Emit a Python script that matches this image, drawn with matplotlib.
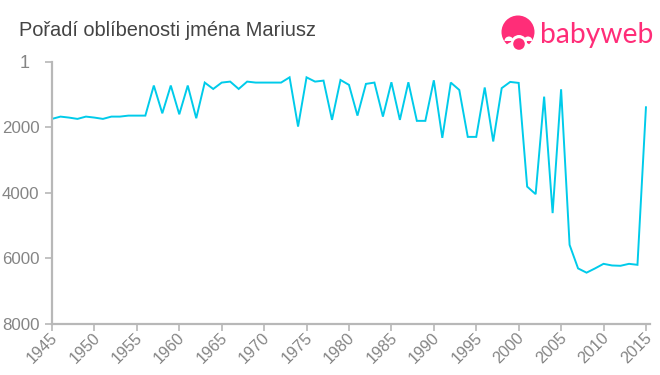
import matplotlib as mpl
import matplotlib.pyplot as plt
from matplotlib.patches import Circle, Ellipse, Wedge
from matplotlib.transforms import ScaledTranslation
import numpy as np

plt.rcParams['font.family'] = ['Liberation Sans', 'DejaVu Sans']

title = 'Pořadí oblíbenosti jména Mariusz'
years = np.arange(1945, 2016)
ranks = [1740, 1670, 1700, 1740, 1670, 1700, 1740, 1670, 1670, 1640,
         1640, 1640, 720, 1570, 720, 1600, 720, 1720, 630, 825,
         630, 600, 825, 600, 630, 630, 630, 630, 470, 1975,
         470, 600, 570, 1770, 550, 700, 1640, 670, 630, 1670,
         620, 1770, 620, 1800, 1800, 560, 2320, 630, 855, 2290,
         2290, 780, 2430, 800, 610, 640, 3810, 4040, 1060, 4620,
         835, 5590, 6310, 6440, 6310, 6170, 6220, 6230, 6170, 6200,
         1385]
y_ticks = [1, 2000, 4000, 6000, 8000]
x_ticks = list(range(1945, 2016, 5))

W, H = 660, 375
fig = plt.figure(figsize=(W / 100, H / 100), dpi=100)
ax = fig.add_axes([52 / W, 1 - 323.7 / H, (649.5 - 52) / W, (323.7 - 62) / H])

ax.plot(years, ranks, color='#00cbea', linewidth=1.4, solid_joinstyle='miter')
ax.set_xlim(1945, 1945 + (649.5 - 52) / 8.485)
ax.set_ylim(8000, 1)
ax.set_xticks(x_ticks)
ax.set_yticks(y_ticks)
ax.set_yticklabels([str(v) for v in y_ticks])
ax.set_xticklabels([str(v) for v in x_ticks], rotation=45, ha='right',
                   va='top', rotation_mode='anchor')
ax.tick_params(axis='both', length=5, width=1.2, color='#b8b8b8',
               labelcolor='#858585', labelsize=12.2)
ax.tick_params(axis='x', pad=1, labelsize=11.6)
ax.tick_params(axis='y', pad=4)

for side in ('top', 'right'):
    ax.spines[side].set_visible(False)
for side in ('left', 'bottom'):
    ax.spines[side].set_color('#b8b8b8')
    ax.spines[side].set_linewidth(1.6)

# nudge the rotated year labels up and left of their ticks
for label in ax.get_xticklabels():
    label.set_transform(label.get_transform() + ScaledTranslation(-2 / 100, 2 / 100, fig.dpi_scale_trans))

# the top label sits further from the axis than the others
first = ax.get_yticklabels()[0]
first.set_transform(first.get_transform() + ScaledTranslation(-10 / 100, 0, fig.dpi_scale_trans))
first.set_fontsize(13)

# overlay in pixel coordinates for the title and logo
over = fig.add_axes([0, 0, 1, 1])
over.set_xlim(0, W)
over.set_ylim(H, 0)
over.axis('off')
over.text(19, 30.5, title, fontsize=14.4, color='#444444', va='center', ha='left')

pink = '#ff2d78'
over.add_patch(Circle((518, 32), 16.5, color=pink, lw=0))
over.add_patch(Ellipse((518, 48), 26, 14, color='white', lw=0))
over.add_patch(Wedge((509, 41), 4.5, 180, 360, color='white', lw=0))
over.add_patch(Wedge((528, 41), 4.5, 180, 360, color='white', lw=0))
over.add_patch(Circle((519, 43), 8, color='white', lw=0))
over.add_patch(Circle((519, 44), 5.8, color=pink, lw=0))
over.text(540, 35, 'babyweb', fontsize=20.3, color=pink, family='Lato',
          va='center', ha='left')

fig.savefig('out.png', dpi=100)
